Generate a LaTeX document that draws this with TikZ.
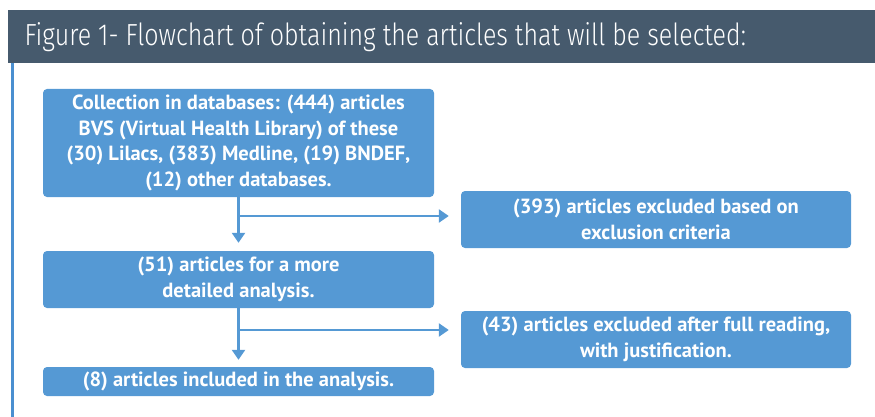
\documentclass[tikz,border=0pt]{standalone}
\usepackage{fontspec}
\setmainfont{PT Sans}
\newfontfamily\titlefont{Fira Sans}[UprightFont=* Light, FakeStretch=0.82]
\usetikzlibrary{arrows.meta}

\definecolor{barslate}{HTML}{465A6D}
\definecolor{boxblue}{HTML}{5599D4}
\definecolor{edgeblue}{HTML}{4A8FD0}

\tikzset{
    flowbox/.style={fill=boxblue, rounded corners=4pt, text=white,
        font=\fontsize{20.5}{25.8}\selectfont\bfseries, align=center,
        inner sep=0pt},
    flowline/.style={draw=boxblue, line width=2.8pt},
    flowarrow/.style={flowline, -{Triangle[length=10pt, width=13pt]}}
}

\begin{document}
\begin{tikzpicture}[x=1pt, y=-1pt]
    \useasboundingbox (0,0) rectangle (875,417);

    % Title bar and left rule
    \fill[barslate] (8,10) rectangle (875,63);
    \node[anchor=west, text=white, font=\titlefont\fontsize{30.5}{34}\selectfont] (title) at (21,37.5) {Figure 1- Flowchart of obtaining the articles that will be selected:};
    \fill[edgeblue] (10.5,63) rectangle (14,417);

    % Main column
    \node[flowbox, minimum width=391pt, minimum height=108pt] (collect) at (238.5,143)
        {Collection in databases: (444) articles\\BVS (Virtual Health Library) of these\\(30) Lilacs, (383) Medline, (19) BNDEF,\\(12) other databases.};
    \node[flowbox, minimum width=391pt, minimum height=57pt] (detail) at (238.5,279.5)
        {(51) articles for a more\\detailed analysis.};
    \node[flowbox, minimum width=391pt, minimum height=29pt] (include) at (238.5,381.5)
        {(8) articles included in the analysis.};

    % Exclusions on the right
    \node[flowbox, minimum width=390pt, minimum height=57pt] (criteria) at (656,219.5)
        {(393) articles excluded based on\\exclusion criteria};
    \node[flowbox, minimum width=390pt, minimum height=57pt] (fullread) at (656,339.5)
        {(43) articles excluded after full reading,\\with justification.};

    % Connectors
    \coordinate (split1) at (238.5,216);
    \coordinate (split2) at (238.5,330);
    \draw[flowarrow, shorten >=8pt] (collect.south) -- (detail.north);
    \draw[flowarrow, shorten >=12pt] (split1) -- (split1 -| criteria.west);
    \draw[flowarrow, shorten >=7pt] (detail.south) -- (include.north);
    \draw[flowarrow, shorten >=12pt] (split2) -- (split2 -| fullread.west);
\end{tikzpicture}
\end{document}
